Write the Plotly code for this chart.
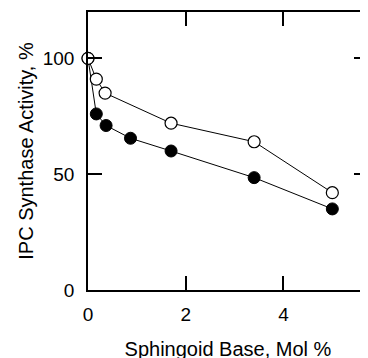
import plotly.graph_objects as go

# Data
open_x = [0, 0.17, 0.35, 1.7, 3.4, 5.0]
open_y = [100, 91, 85, 72, 64, 42]
filled_x = [0, 0.17, 0.37, 0.87, 1.7, 3.4, 5.0]
filled_y = [100, 76, 71, 65.5, 60, 48.5, 35]

x_ticks = [0, 2, 4]
y_ticks = [0, 50, 100]

FONT = "Liberation Sans, Arial, Helvetica, sans-serif"

fig = go.Figure()
fig.add_trace(go.Scatter(
    x=filled_x, y=filled_y, mode="lines+markers",
    line=dict(color="black", width=1),
    marker=dict(symbol="circle", size=12, color="black", line=dict(color="black", width=1)),
    showlegend=False, cliponaxis=False))
fig.add_trace(go.Scatter(
    x=open_x, y=open_y, mode="lines+markers",
    line=dict(color="black", width=1),
    marker=dict(symbol="circle", size=12, color="white", line=dict(color="black", width=1.2)),
    showlegend=False, cliponaxis=False))

fig.update_layout(
    width=368, height=358,
    margin=dict(l=80, r=8, t=4, b=76, autoexpand=False),
    paper_bgcolor="white", plot_bgcolor="white",
    font=dict(family=FONT, color="black"),
    xaxis=dict(
        range=[0, 5.73], tickvals=x_ticks, ticktext=[str(v) for v in x_ticks],
        ticks="inside", ticklen=14, tickwidth=1.5, tickcolor="black",
        showline=True, linecolor="black", linewidth=1.5, mirror="ticks",
        showgrid=False, zeroline=False, automargin=False,
        tickfont=dict(size=19, family=FONT), ticklabelstandoff=6,
        title=dict(text="Sphingoid Base, Mol %", font=dict(size=20, family=FONT), standoff=18),
    ),
    yaxis=dict(
        range=[0, 120], tickvals=y_ticks, ticktext=[str(v) for v in y_ticks],
        ticks="inside", ticklen=14, tickwidth=1.5, tickcolor="black",
        showline=True, linecolor="black", linewidth=1.5, mirror="ticks",
        showgrid=False, zeroline=False, automargin=False,
        tickfont=dict(size=19, family=FONT), ticklabelstandoff=8,
        title=dict(text="IPC Synthase Activity, %", font=dict(size=20, family=FONT), standoff=4),
    ),
)

fig.write_html("out.html")
